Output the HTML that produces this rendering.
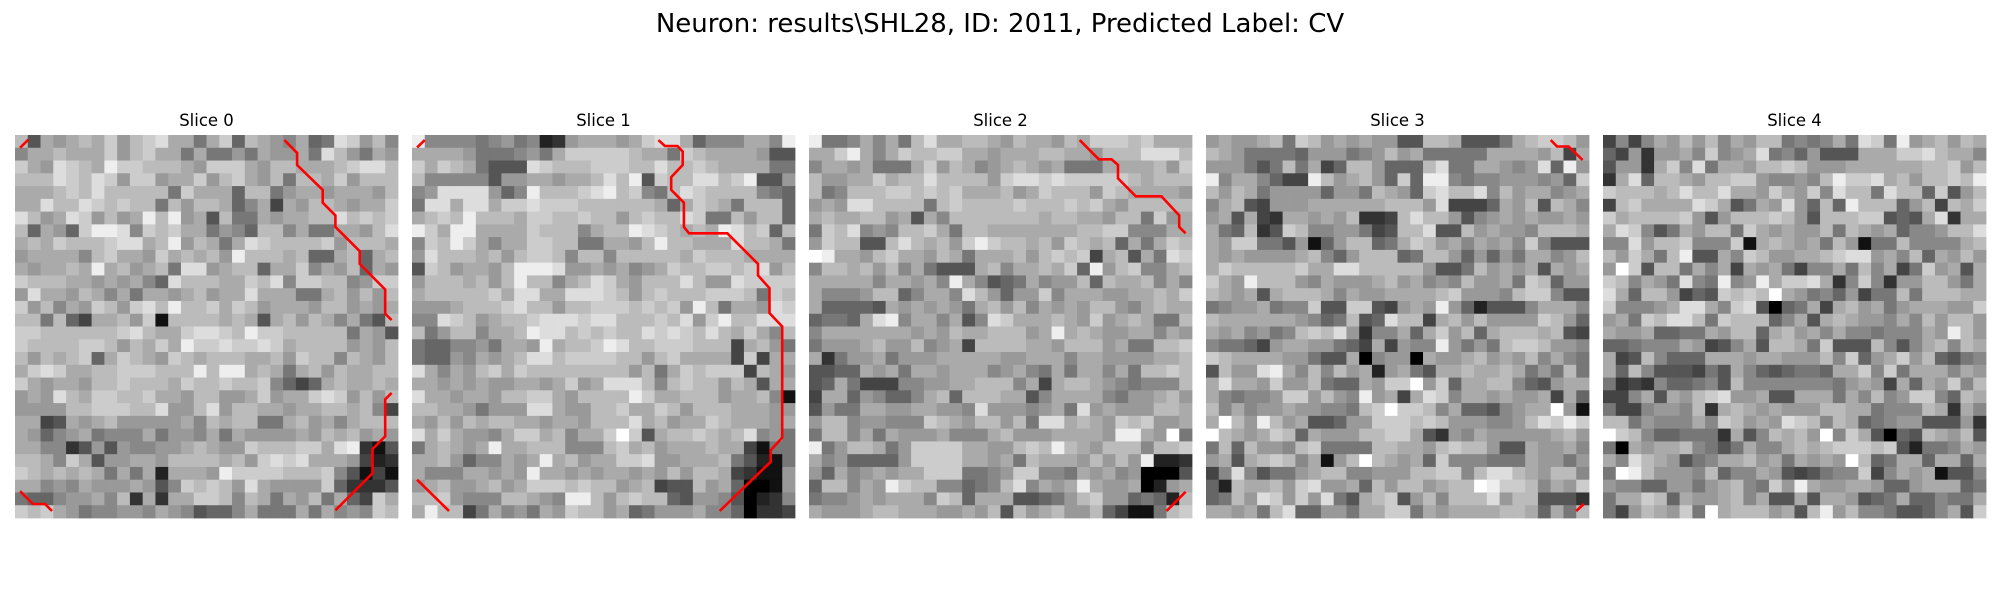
<!DOCTYPE html>
<html><head><meta charset="utf-8"><style>
html,body{margin:0;padding:0;background:#fff;}
svg{display:block;font-family:"DejaVu Sans","Liberation Sans",sans-serif;}
</style></head><body>
<svg id="fig" width="2000" height="600" viewBox="0 0 2000 600" xmlns="http://www.w3.org/2000/svg">
<text x="1000" y="32" text-anchor="middle" font-size="26" fill="#000">Neuron: results\SHL28, ID: 2011, Predicted Label: CV</text>
</svg>
<script>
const sliceTitles = ["Slice 0","Slice 1","Slice 2","Slice 3","Slice 4"];
// grayscale intensities, hex digit per cell (0 = black, f = white), 30 rows x 30 cols
const slice0 = [
"b5a9abac9bcdaa7ac6ba98a67dc9b8a64",
"8aabaaac9bcaa7a7797a99a7db97a939a",
"ca9dcbaeccbbba9ccca9bbaaabcddba4b",
"bbbdcbdc9cc9aac9bca9b7bbac9bbb8a0",
"aaabcbdbbbbb7caaa6bb79aa9aaa9bb8c",
"aadbbdcbcbb7b9bba68a4a9bba9aac7ab",
"db9adc9b9aebe9a5b77a9aabbdbcbcb5b",
"b6a96ceed8cbcaa7986bb8a77aa9bdc77",
"abacbbbcddabe9ba7adcbbbbc9bbba9ba",
"9aaaa8bcaa9cabab9ebbbab66ab6ab9cb",
"a9aabaeab9ab7dd9abb6aac8a9b6a9bdd",
"cbbbaa9a9a86dbbbaacbd8ccbb89ccbda",
"9daa9ba8a7aa9ab9aadaaa77ab9b9bbb9",
"c9b8a9cb9cdbebbcacb9aaa9bb9a9abda",
"bb7b64aab9c1bbbbaba5ab9ba8a75bcdb",
"ccbbbbbbcdbaacddcbeccbbbbb7a95599",
"cbbbbccb9bacaeccdccdcabbbb9a9bbbb",
"b9babc6acba9cbabbbaab9cbb8ba9baac",
"acdcaabbcccbbbebeeaba7ab9baabbaa9",
"ca9aa9bbcbbbacbbcbbc8646abaaba9bc",
"9a9dbaccbbcaa9bb99ac9aacdc9b9bea9",
"9999bbcccbbd99bd9bbaa9aabbab84cb9",
"aa45a9ab99999a8babb77ab9a8abbb9ba",
"a9689a7888a7998a7a9999a9bab9a9bb9",
"aa88359598899aba99cbbbccade315",
"bba8ca599aa9bbbbab9cdcdaaa9423",
"cbababa7a7a2aaa9eccccbbbc85141",
"aa898a999a958cbcb9da9999c63335",
"766899a8b3a3aaccb8ba7a9b7a64ca",
"cbca9788998a985668a777a7a898cbc9a"];
const slice1 = [
"e888878978239aaa9acdda6888aa8e7aa",
"aaaa9777897acccccbaa7cbaaaa9556aa",
"cacba7555dcbbbcccbbdbbcbaaaa77caa",
"b88888599aa9aabdbe5cbbddbce5599b5",
"89dddd968ebbbcdebc87bdcbbbb876b44",
"7ddaddaccdcccbbbbbba6acba7bbb6b55",
"abcbebbbaccbbcbb9bcbbdc77b9bb6dd8",
"ecaeeaaaacbbb8abbedcbabaedbc6bd64",
"8cbeca8aaccbb77aa9bebbaaadbba7b6a",
"9dbbbab9bccb8bb8bbbbbacbbbaaaaaca",
"5cb9aa9beeed99a9a89acbbccbcd9b76b",
"9bbbab9bebb8abdca9bbbdb99dccccca9",
"abbbbbcaddaadddcb9bcbbbcccb7cbeba",
"999abbbcdbb9bbcccbcbc9eb7aa9dcbbb",
"88dcb9abbcdddcddbbbcbd9cebbddddab",
"b79bb8aabeddbcbcbbdcdcbdbaca8bcbb",
"7668897aa9eabbcedbbcccbbb4ab97bfb",
"76698a9abddbccccbb9bcaaaa4c4aaaa9",
"da8a9bcacbbbbbbbb9b7acbccc4ba9cbc",
"aa9a9a99aa9ac9adddb8bcbb9ba5aa9cc",
"daa9aa9bbcca9bbbbecaabbb9aab819b9",
"bbaa97999dda99bbcaacb9bbbaaa998a9",
"a9b9babbaa9aa9bbbdab9aacbaaa9aa6a",
"daca998accab8aacfc5abbcbabd89799a",
"7aba9aeaabbb888bcab9aaabaa4177",
"aab9688a9aeab9aaccd99aaab75217",
"a888aa9a9eaa9a9aa9a9b9bba43119",
"9ab99ab9acccbcbb9ab455b9a60019",
"bbc9888bba98eeb9bcbb6599850238",
"aebb47a897a9cbb9a67999a8860334"];
const slice2 = [
"e778a8a7bdaabba9baa9bacccbcaaa66",
"aacea8acbbccaa9aaabbaa9bbbdddbcbd",
"8aa9a777ac9ba89aba9a777aaaab9c87c",
"b99aacabbdbbbb9cddcdcccccbabbb589",
"b78bbbccbcbcaaab9acbbb9cbaaaa9bc8",
"9a9ddbbbb7bcbbbbcbbbcbca9bbbbba5a",
"abaabb9a5a8bbbbbbbabbaa9bb7c9aba9",
"7cbd898bbca7bbaaaaaaabbcc888aab9a",
"9cbb55bdbab9cecbbab9cbab6a7acbbb7",
"feaa9bcaa9ba7aaab9bcbc4ab5a7dcbcc",
"8bbab9b8a7555ab8aabac6e9bc88ab5d9",
"aaaaa8aa9a8ea8567a899b6baab8a8a9",
"a8889bb68aa8db9699c8aaa99aabacba",
"a66665a9a9a97ab9b8a9a9bb98abaabc",
"6776ade8aa8a58dcaaaba9c9aba77b7ddb",
"8aaaaaaa9a9baabbb9aeaba99aa8a99aa",
"7999ab99b89a4bbbbaa9bbb9a77bbcb8b",
"a3799a7999aaaaa99aaa8aa9999aab699",
"5566a9a7aa9aaa89a87a7aa8a7bbcbbb9",
"56a74448899aabbb8a4abba987888bbbc",
"4aa698668ab6bbbaa58aaaa8799ab9aa9",
"5977aa99aa998d99989a7d9a999bbaaab",
"9bb899888cba9bb9b7ddaba9cbc99aaba",
"7bb8a7a999a888ab999aaaa9eea9f7bbb",
"e79bba79ccccaa99bcbeba9bbb8bbcaaa",
"a8966669ccccaa9a7baaa9b9b9e223",
"96a89a9aaccc7789cc887a9a890005",
"6bb8a9ecbb88678bd8a9aea99a029a",
"7889a9aaa8cb6aaa55679bc996762b",
"a999abbaaa99a9b5b9ab99b64117bc"];
const slice3 = [
"9a99ab7cb9a9a9955bba5557abccb9722",
"ba977776999789b9a77777aaaa9b4a89b",
"999757b7a46bb9666bd77aa989d6e93a9",
"e8aa8644eb9ab96c6ee8788999896cbba",
"b9ba799996997ba96cdbbd8b9aa89a9a9",
"8ab54999aaaaaabbb9d4446a9b5ba89a9",
"9a5a43aa9a9b334bdbb9589a9a99a9a6b",
"a76b35cb8899745bbd55b9a998bbbab98",
"a9cc7759169bb67acb9a8a9a8c8555a9a",
"a9a9999ab869bbb67bb969697aa89bbcc",
"acbbbbbcaaddbbbbb9557b9a9a5a9aaa9",
"ca9ebbb98a999ab9a898b99a7cb699a99",
"ba9a5abbba8a99aaaabc9998bcc8556a6",
"7899a788c55cc549a9e9625558aaa8449",
"baaaaaa9867b56dbb4ab9b9999cb9633b6",
"a9a8978bcbd9388a6ac9b6abbbab544b6",
"877649aa99764a4988e9797bccb99886",
"cbaaaa99755a08990a99ab9a9b8a8775",
"5b99dea8b8b9a29a75aabaaba797b7a86",
"adaa9c99b766a9ccf9c6aabb8659aab9a",
"a87889cc9b98e9a4adc8aa9a99a4a67b",
"b8a899a99887bcfccb8a66589aaf9157c",
"afb9eb9a55699cccbcb999889bdceccbc",
"fba9acb6a999bbcca5398a99999ab9b89",
"7b6b998bc7777bbaa9bcbb955a99a8aa9",
"9a5abcb8a19bfba9a6c888777a9979a96",
"48d85779abb88999bbcc8bddba9bb8999",
"62baab9cd99a6b9bb9abbfeccb8a9cb37",
"67b9dc9c9d75abc59b8bbbd9bb555395a",
"aa9a7bd66997aacc7a9aaaabba6a7b55",
"b569a9bcbd9a99889c1dbbfa95a9b4889"];
const slice4 = [
"4848a9b9b8a9bb7878a7dc7e9ab9ba8c",
"649399a8c89ad7869555aaaccdbaa8a96",
"5993ac8d7aa9bbcb999aaaaaabbc9bba6",
"3ad6bba9bbcc98898beccdab9bbcbe9b8",
"cbbbabdbbdaa9ca9c8dbb7dbb6c59bc9",
"4bcaaaadca57a9d96b6ebbb69b4bac7cb",
"cabbbbc959bbbcb95bbbcc565ad3aaa8",
"adc857a9bb7ca9a99b7ba9a6889bbdb8a",
"88d9bbc888c1aba9a7b9177b8888abc8b",
"b9ca7be55a8cb99aabcdd9a8b6a9b9adc",
"9fc5bb7a8a4a9a7488a7b8a47c9a5a99b",
"cb8a97d87e89eaccda38c8399bb97a999",
"da6bb9465cbcbfa97869477b7bbbaa9aa",
"c8889adda8cd5067a4ab9a79aaa99ca7b8",
"9a7cbddb7cbbb68a5aba998a8b9bb9b88",
"a99a6677a9bb6ab9a8a887888a9eb9b68",
"667888a9458a5bba7c555b858ab8ba9",
"a45b8666aaa9aa999b8c69ac9b6578a8b",
"a6b8555475a8656776aac8c7aaa8a9d8a",
"7343866785b888888879a94a6a9c8b9c1",
"448a5a9bcd99a55aaa7a8b89cc86baa96",
"7448998b3aba9a999bbaa7888ba3a8a58",
"bb79888a8cb9a9dcb8ba6789955593a8b",
"fcb8667773a58bab9f8ca5065ba9b5993",
"70a9aab8757a88ababcccbc52778a99bb",
"a8dba9578aab9a7a9a9fb67aa6aa6a97",
"7feb9998b688a9545788c48a9a1558cbb",
"988669979ab87c9ea99aa9669aaa67aa44",
"7aacb6a99ab8a55a5aa9567a66877aa64",
"749ba9c7fabbb9a5be9b8875568a5c7113"];
const slices = [slice0, slice1, slice2, slice3, slice4];
// red contour paths in cell units (x, y from top-left of image)
const contours0 = [
 [[0.4,1.0],[1.05,0.35]],
 [[21.1,0.4],[22.1,1.4],[22.1,2.35],[24.1,4.3],[24.1,5.3],[25.1,6.3],[25.1,7.2],[27,9.1],[27,10.1],[29,12.1],[29,14],[29.5,14.5]],
 [[29.5,20.2],[29,20.7],[29,23.6],[28,24.6],[28,26.5],[25.1,29.4]],
 [[0.4,27.9],[1.4,28.9],[2.35,28.9],[2.9,29.45]]];
const contours1 = [
 [[0.4,0.97],[1.0,0.4]],
 [[19.3,0.4],[19.8,0.86],[20.8,0.86],[21.2,1.3],[21.2,2.35],[20.3,3.3],[20.3,4.3],[21.3,5.3],[21.3,7.2],[21.7,7.7],[24.7,7.7],[27.1,10.1],[27.1,11],[28,12],[28,13.95],[29,15],[29,23.7],[28.1,24.7],[28.1,25.6],[24.1,29.45]],
 [[0.4,27],[2.9,29.45]]];
const contours2 = [
 [[21.2,0.4],[22.7,1.9],[23.7,1.9],[24.2,2.35],[24.2,3.4],[25.6,4.8],[27.6,4.8],[29,6.3],[29,7.2],[29.5,7.7]],
 [[29.5,27.95],[28,29.45]]];
const contours3 = [
 [[27,0.4],[27.5,0.9],[28.4,0.9],[29.5,1.96]],
 [[29.6,28.9],[29,29.45]]];
const contours4 = [];
const allContours = [contours0, contours1, contours2, contours3, contours4];

const NS = "http://www.w3.org/2000/svg";
const svg = document.getElementById('fig');
const N = 30, X0 = 15, STEP = 397, Y0 = 135, SIZE = 383;
const cell = SIZE / N;
const xScale = (p, c) => X0 + p * STEP + c * cell;
const yScale = r => Y0 + r * cell;

slices.forEach((rows, p) => {
  const g = document.createElementNS(NS, 'g');
  
  
  svg.appendChild(g);
  const t = document.createElementNS(NS, 'text');
  
  
  t.setAttribute('x', xScale(p, N / 2));
  t.setAttribute('y', 126);
  t.setAttribute('text-anchor', 'middle');
  t.setAttribute('font-size', '16.5');
  t.textContent = sliceTitles[p];
  g.appendChild(t);
  for (let r = 0; r < N; r++) {
    const row = rows[r] || '';
    for (let c = 0; c < N; c++) {
      const ch = row[c] || '9';
      const v = parseInt(ch, 16) * 17;
      const rect = document.createElementNS(NS, 'rect');
      
      
      rect.setAttribute('x', xScale(p, c).toFixed(2));
      rect.setAttribute('y', yScale(r).toFixed(2));
      rect.setAttribute('width', (cell + 0.4).toFixed(2));
      rect.setAttribute('height', (cell + 0.4).toFixed(2));
      rect.setAttribute('fill', `rgb(${v},${v},${v})`);
      g.appendChild(rect);
    }
  }
  allContours[p].forEach(path => {
    const pl = document.createElementNS(NS, 'polyline');
    
    
    pl.setAttribute('points', path.map(q => xScale(p, q[0]).toFixed(1) + ',' + yScale(q[1]).toFixed(1)).join(' '));
    pl.setAttribute('fill', 'none');
    pl.setAttribute('stroke', '#ff0000');
    pl.setAttribute('stroke-width', '2.6');
    g.appendChild(pl);
  });
});
</script>
</body></html>
